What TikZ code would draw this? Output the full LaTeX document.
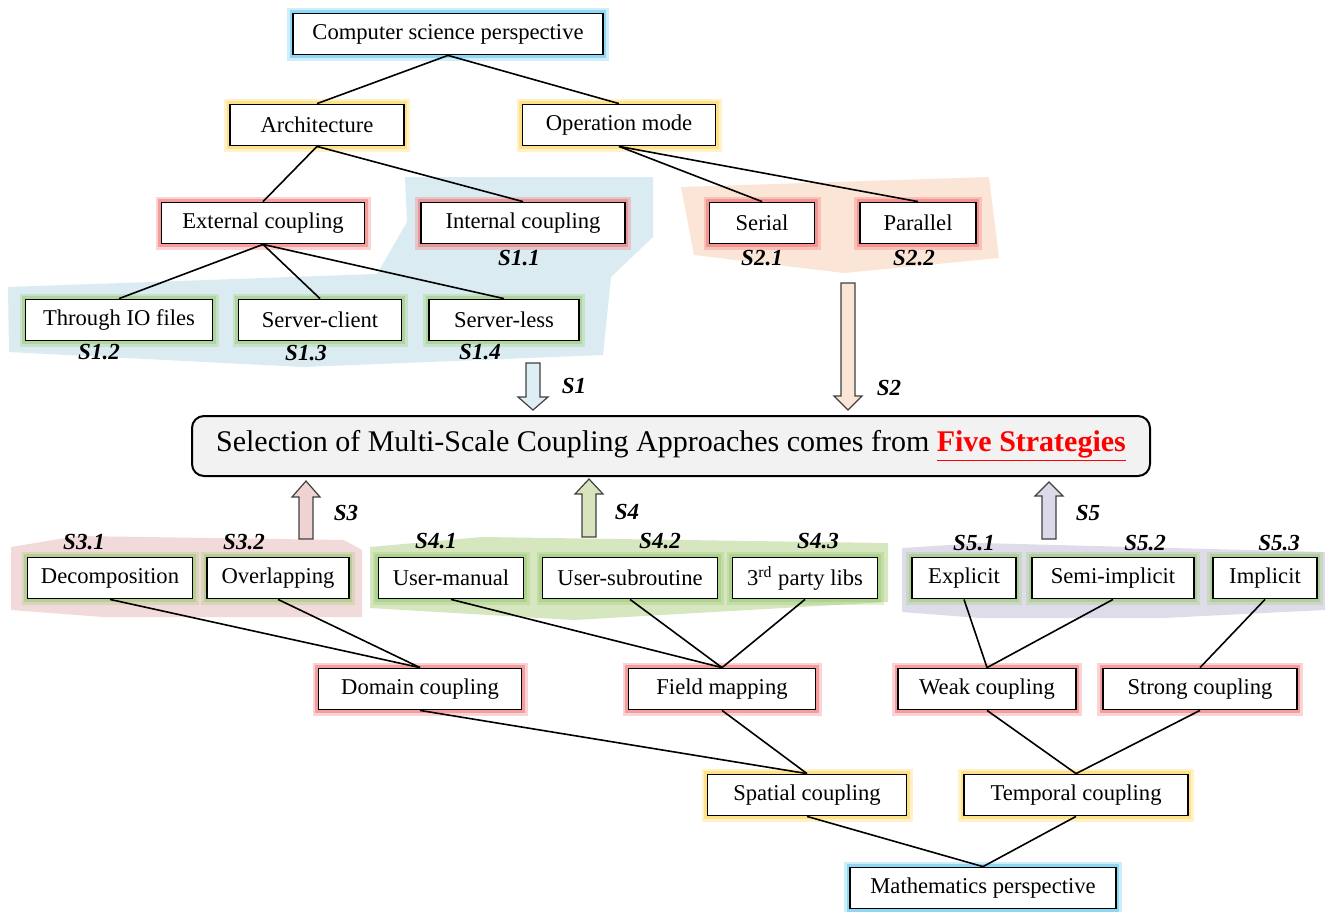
\documentclass[tikz,border=0pt]{standalone}
\usepackage{fontspec}
\setmainfont{Liberation Serif}
\usetikzlibrary{arrows}
\newcommand\colorLink{black}
\definecolor{glowCyan}{HTML}{5CC6EE}
\definecolor{glowYellow}{HTML}{FFD54F}
\definecolor{glowRed}{HTML}{F07070}
\definecolor{glowGreen}{HTML}{9CCB76}
\definecolor{regionBlue}{HTML}{DAEBF2}
\definecolor{regionOrange}{HTML}{FBE5D6}
\definecolor{regionPink}{HTML}{F2DADA}
\definecolor{regionGreen}{HTML}{D6E6BF}
\definecolor{regionPurple}{HTML}{DFDCEA}
\definecolor{arrowBlue}{HTML}{DDEFF5}
\definecolor{arrowOrange}{HTML}{FBE5D6}
\definecolor{arrowPink}{HTML}{F0D2D2}
\definecolor{arrowGreen}{HTML}{D7E4BD}
\definecolor{arrowPurple}{HTML}{DCD9E8}

\tikzset{
	box/.style={draw=black, line width=0.9pt, fill=white, minimum height=20.5pt, inner sep=1pt, font=\fontsize{11.3}{13}\selectfont},
	glow/.style={preaction={draw=#1, line width=6pt, opacity=0.3}, preaction={draw=#1, line width=3.2pt, opacity=0.55}},
	slabel/.style={font=\fontsize{11.5}{13}\selectfont\bfseries\itshape},
	link/.style={draw=\colorLink, line width=0.8pt}
}

% block arrow: x, tail y, head base y, tip y, head half width, fill
\newcommand\stratArrow[6]{
	\draw[line width=0.6pt, draw=black!75, fill=#6] (#1-7,#2) -- (#1-7,#3) -- (#1-#5,#3) -- (#1,#4) -- (#1+#5,#3) -- (#1+7,#3) -- (#1+7,#2) -- cycle;
}

\begin{document}
\begin{tikzpicture}[x=0.5pt,y=-0.5pt]
		\useasboundingbox (0,0) rectangle (1325,911);

		% strategy regions
		\fill[regionBlue] (8,287) -- (377,274) -- (407,222) -- (405,177) -- (653,177) -- (653,237) -- (611,277) -- (603,355) -- (303,367) -- (9,352) -- cycle;
		\fill[regionOrange] (681,187) -- (989,177) -- (999,258) -- (844,273) -- (694,255) -- cycle;
		\fill[regionPink] (11,547) -- (77,536) -- (344,540) -- (362,550) -- (362,617) -- (103,617) -- (11,610) -- cycle;
		\fill[regionGreen] (370,547) -- (482,537) -- (888,543) -- (888,602) -- (574,620) -- (370,608) -- cycle;
		\fill[regionPurple] (902,548) -- (980,543) -- (1325,552) -- (1325,610) -- (1163,618) -- (980,618) -- (902,612) -- cycle;

		% computer science side
		\node[box, glow=glowCyan, minimum width=155pt] (csp) at (448,34) {Computer science perspective};
		\node[box, glow=glowYellow, minimum width=87pt] (arch) at (317,125) {Architecture};
		\node[box, glow=glowYellow, minimum width=96.5pt] (opmode) at (619,125) {Operation mode};
		\node[box, glow=glowRed, minimum width=101.5pt] (extc) at (263,223) {External coupling};
		\node[box, glow=glowRed, minimum width=102pt] (intc) at (523,223) {Internal coupling};
		\node[box, glow=glowRed, minimum width=52.5pt] (serial) at (762,223) {Serial};
		\node[box, glow=glowRed, minimum width=58pt] (parallel) at (918,223) {Parallel};
		\node[box, glow=glowGreen, minimum width=93.5pt] (iofiles) at (119,320) {Through IO files};
		\node[box, glow=glowGreen, minimum width=81.5pt] (srvclient) at (320,320) {Server-client};
		\node[box, glow=glowGreen, minimum width=75pt] (srvless) at (504,320) {Server-less};

		\draw[link] (csp.south) -- (arch.north);
		\draw[link] (csp.south) -- (opmode.north);
		\draw[link] (arch.south) -- (extc.north);
		\draw[link] (arch.south) -- (intc.north);
		\draw[link] (opmode.south) -- (serial.north);
		\draw[link] (opmode.south) -- (parallel.north);
		\foreach \leaf in {iofiles,srvclient,srvless}{
			\draw[link] (extc.south) -- (\leaf.north);
		}

		\node[slabel] (s11) at (519,258) {S1.1};
		\node[slabel] (s12) at (99,352) {S1.2};
		\node[slabel] (s13) at (306,353) {S1.3};
		\node[slabel] (s14) at (480,352) {S1.4};
		\node[slabel] (s21) at (762,258) {S2.1};
		\node[slabel] (s22) at (914,258) {S2.2};

		% central box
		\node[draw=black, line width=1pt, fill=black!5, rounded corners=6pt, minimum width=479pt, minimum height=30pt, font=\fontsize{15}{18}\selectfont] (select) at (671,446)
			{Selection of Multi-Scale Coupling Approaches comes from \textcolor{red}{\textbf{\underline{Five Strategies}}}};

		\stratArrow{533}{363}{397}{410}{15}{arrowBlue}
		\stratArrow{848}{283}{396}{410}{14}{arrowOrange}
		\stratArrow{306}{539}{497}{481}{14}{arrowPink}
		\stratArrow{589}{537}{494}{479}{14}{arrowGreen}
		\stratArrow{1049}{539}{496}{482}{14}{arrowPurple}

		\node[slabel] (s1) at (574,386) {S1};
		\node[slabel] (s2) at (889,388) {S2};
		\node[slabel] (s3) at (346,513) {S3};
		\node[slabel] (s4) at (627,512) {S4};
		\node[slabel] (s5) at (1088,513) {S5};

		% mathematics side
		\node[box, glow=glowGreen, minimum width=82.5pt] (decomp) at (110,578) {Decomposition};
		\node[box, glow=glowGreen, minimum width=71pt] (overlap) at (278,578) {Overlapping};
		\node[box, glow=glowGreen, minimum width=72.5pt] (usermanual) at (451,578) {User-manual};
		\node[box, glow=glowGreen, minimum width=87.5pt] (usersub) at (630,578) {User-subroutine};
		\node[box, glow=glowGreen, minimum width=72.5pt] (thirdparty) at (805,578) {3\textsuperscript{rd} party libs};
		\node[box, glow=glowGreen, minimum width=52pt] (explicit) at (964,578) {Explicit};
		\node[box, glow=glowGreen, minimum width=81pt] (semiimp) at (1113,578) {Semi-implicit};
		\node[box, glow=glowGreen, minimum width=52pt] (implicit) at (1265,578) {Implicit};
		\node[box, glow=glowRed, minimum width=101.5pt] (domain) at (420,689) {Domain coupling};
		\node[box, glow=glowRed, minimum width=93.5pt] (field) at (722,689) {Field mapping};
		\node[box, glow=glowRed, minimum width=89pt] (weak) at (987,689) {Weak coupling};
		\node[box, glow=glowRed, minimum width=97pt] (strong) at (1200,689) {Strong coupling};
		\node[box, glow=glowYellow, minimum width=99.5pt] (spatial) at (807,795) {Spatial coupling};
		\node[box, glow=glowYellow, minimum width=112pt] (temporal) at (1076,795) {Temporal coupling};
		\node[box, glow=glowCyan, minimum width=133pt] (math) at (983,888) {Mathematics perspective};

		\foreach \leaf in {decomp,overlap}{
			\draw[link] (\leaf.south) -- (domain.north);
		}
		\foreach \leaf in {usermanual,usersub,thirdparty}{
			\draw[link] (\leaf.south) -- (field.north);
		}
		\foreach \leaf in {explicit,semiimp}{
			\draw[link] (\leaf.south) -- (weak.north);
		}
		\draw[link] (implicit.south) -- (strong.north);
		\draw[link] (domain.south) -- (spatial.north);
		\draw[link] (field.south) -- (spatial.north);
		\draw[link] (weak.south) -- (temporal.north);
		\draw[link] (strong.south) -- (temporal.north);
		\draw[link] (spatial.south) -- (math.north);
		\draw[link] (temporal.south) -- (math.north);

		\node[slabel] (s31) at (84,542) {S3.1};
		\node[slabel] (s32) at (244,542) {S3.2};
		\node[slabel] (s41) at (436,541) {S4.1};
		\node[slabel] (s42) at (660,541) {S4.2};
		\node[slabel] (s43) at (818,541) {S4.3};
		\node[slabel] (s51) at (974,543) {S5.1};
		\node[slabel] (s52) at (1145,543) {S5.2};
		\node[slabel] (s53) at (1279,543) {S5.3};
	\end{tikzpicture}
\end{document}
